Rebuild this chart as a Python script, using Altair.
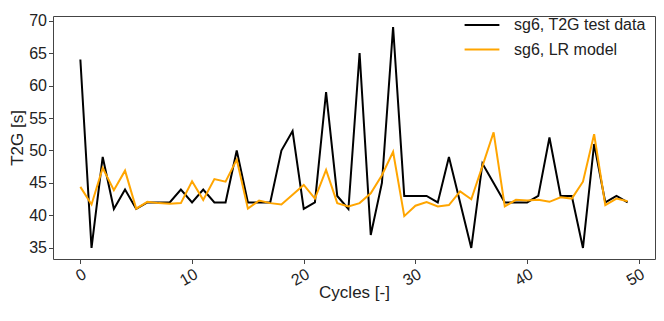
import altair as alt
import pandas as pd

cycles = list(range(50))
t2g_test = [64, 35, 49, 41, 44, 41, 42, 42, 42, 44,
            42, 44, 42, 42, 50, 42, 42, 42, 50, 53,
            41, 42, 59, 43, 41, 65, 37, 45, 69, 43,
            43, 43, 42, 49, 42, 35, 48, 45, 42, 42,
            42, 43, 52, 43, 43, 35, 51, 42, 43, 42]
lr_model = [44.4, 41.7, 47.3, 43.9, 46.9, 41.05, 42.1, 41.9, 41.8, 41.9,
            45.25, 42.4, 45.6, 45.2, 48.6, 41.05, 42.3, 41.9, 41.7, 43.2,
            44.7, 42.6, 47.0, 41.9, 41.4, 41.9, 43.4, 46.2, 49.8, 39.9,
            41.5, 42.05, 41.4, 41.6, 43.7, 42.5, 47.6, 52.8, 41.4, 42.4,
            42.3, 42.4, 42.1, 42.8, 42.6, 45.2, 52.5, 41.6, 42.6, 42.2]
series_names = ["sg6, T2G test data", "sg6, LR model"]
series_colors = ["#000000", "#FFA500"]
x_ticks = [0, 10, 20, 30, 40, 50]
y_ticks = [35, 40, 45, 50, 55, 60, 65, 70]

df = pd.concat([
    pd.DataFrame({"cycle": cycles, "value": t2g_test, "series": series_names[0]}),
    pd.DataFrame({"cycle": cycles, "value": lr_model, "series": series_names[1]}),
])

FONT = "Liberation Sans"
PL, PT, PR, PB = 45, 8, 1, 49
W = 648 - PL - PR
H = 300 - PT - PB

chart = alt.Chart(df).mark_line(strokeWidth=2, clip=True).encode(
    x=alt.X("cycle:Q", title="Cycles [-]",
            scale=alt.Scale(domain=[-2.45, 51.45], nice=False, zero=False),
            axis=alt.Axis(values=x_ticks, labelAngle=330, labelAlign="right",
                          labelBaseline="top", grid=False, domain=False,
                          tickSize=4.5, labelPadding=2, titlePadding=-4)),
    y=alt.Y("value:Q", title="T2G [s]",
            scale=alt.Scale(domain=[33.3, 70.7], nice=False, zero=False),
            axis=alt.Axis(values=y_ticks, grid=False, domain=False,
                          tickSize=4.5, labelPadding=2, titlePadding=2)),
    color=alt.Color("series:N",
                    scale=alt.Scale(domain=series_names, range=series_colors),
                    legend=alt.Legend(title=None, orient="none",
                                      legendX=W - 181, legendY=1,
                                      symbolType="M-2.9,0H2.9", symbolSize=144,
                                      symbolStrokeWidth=2, labelOffset=24,
                                      labelFontSize=16, labelFont=FONT,
                                      labelColor="#222", rowPadding=8.5,
                                      padding=0)),
    order=alt.Order("cycle:Q"),
).properties(
    width=W, height=H,
    autosize=alt.AutoSizeParams(type="none"),
    padding={"left": PL, "top": PT, "right": PR, "bottom": PB},
).configure_view(
    stroke="#444", strokeWidth=1
).configure_axis(
    labelFont=FONT, titleFont=FONT, labelFontSize=16, titleFontSize=17,
    labelColor="#222", titleColor="#222", titleFontWeight="normal",
    tickColor="#444", tickWidth=1
)

chart.save("out.html", embed_options={"renderer": "svg", "actions": False})
